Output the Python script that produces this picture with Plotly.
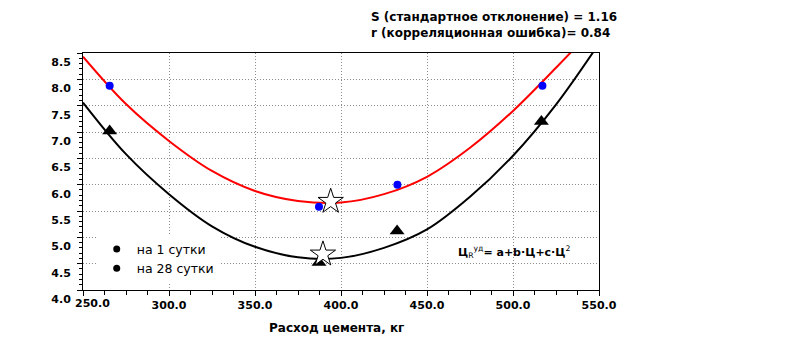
import plotly.graph_objects as go

# Fitted curves
curve_x_1 = [250, 275, 300, 325, 350, 375, 400, 425, 450, 475, 500, 525, 540]
curve_y_1 = [8.43, 7.53, 6.83, 6.26, 5.88, 5.69, 5.66, 5.82, 6.15, 6.70, 7.40, 8.22, 8.73]
curve_x_28 = [250, 275, 300, 325, 350, 375, 400, 425, 450, 475, 500, 525, 550]
curve_y_28 = [7.56, 6.58, 5.82, 5.21, 4.82, 4.62, 4.61, 4.80, 5.15, 5.77, 6.55, 7.52, 8.68]

# Measured points
pts_x_1 = [265.5, 387.2, 432.8, 517.1]
pts_y_1 = [7.88, 5.58, 6.00, 7.88]
pts_x_28 = [265.5, 387.2, 432.6, 516.5]
pts_y_28 = [7.02, 4.52, 5.12, 7.20]

# Optimum (stars)
star_x = [394.0, 389.5]
star_y = [5.68, 4.68]

legend_names = ["на 1 сутки", "на 28 сутки"]
stat_lines = ["S (стандартное отклонение) = 1.16", "r (корреляционная ошибка)= 0.84"]
equation = ("Ц<sub><span style='font-weight:normal'>R</span></sub>"
            "<sup><span style='font-weight:normal'>уд</span></sup>= a+b·Ц+c·Ц"
            "<sup><span style='font-weight:normal'>2</span></sup>")
x_title = "Расход цемента, кг"

x_ticks = [250, 300, 350, 400, 450, 500, 550]
x_ticktext = ["", "300.0", "350.0", "400.0", "450.0", "500.0", "550.0"]
first_x_label = "250.0"
y_ticks = [4.0, 4.5, 5.0, 5.5, 6.0, 6.5, 7.0, 7.5, 8.0, 8.5]

fig = go.Figure()
fig.add_trace(go.Scatter(x=curve_x_1, y=curve_y_1, mode="lines", line=dict(color="#ff0000", width=2, shape="spline"),
                         showlegend=False, hoverinfo="skip"))
fig.add_trace(go.Scatter(x=curve_x_28, y=curve_y_28, mode="lines", line=dict(color="#000000", width=2, shape="spline"),
                         showlegend=False, hoverinfo="skip"))
fig.add_trace(go.Scatter(x=pts_x_1, y=pts_y_1, mode="markers", marker=dict(color="#0000ff", size=8, symbol="circle"),
                         showlegend=False))
fig.add_trace(go.Scatter(x=pts_x_28, y=pts_y_28, mode="markers", marker=dict(color="#000000", size=13, symbol="triangle-up"),
                         showlegend=False))
fig.add_trace(go.Scatter(x=star_x, y=star_y, mode="markers",
                         marker=dict(color="#ffffff", size=19, symbol="star", line=dict(color="#000000", width=1)),
                         showlegend=False))
for nm in legend_names:
    fig.add_trace(go.Scatter(x=[None], y=[None], mode="markers", name=nm,
                             marker=dict(color="#000000", size=7, symbol="circle")))

tickfont = dict(family="DejaVu Sans", size=11, color="#000000", weight="bold")
grid_kw = dict(showgrid=True, gridcolor="#8c8c8c", griddash="1px,2px", gridwidth=1)
fig.update_xaxes(range=[250, 550], tickvals=x_ticks, ticktext=x_ticktext,
                 showline=True, linecolor="#000000", linewidth=1, mirror=True,
                 ticks="outside", ticklen=5, tickcolor="#000000",
                 minor=dict(dtick=12.5, tick0=250, ticks="outside", ticklen=4, tickcolor="#000000", showgrid=False),
                 zeroline=False, tickfont=tickfont, **grid_kw)
fig.update_yaxes(range=[4.0, 8.5], tickvals=y_ticks, ticktext=[f"{v:.1f}" for v in y_ticks],
                 showline=True, linecolor="#000000", linewidth=1, mirror=True,
                 ticks="outside", ticklen=5, tickcolor="#000000",
                 minor=dict(dtick=0.1, tick0=4.0, ticks="outside", ticklen=3, tickcolor="#000000", showgrid=False),
                 zeroline=False, tickfont=tickfont, ticklabelshift=9, ticklabelstandoff=4, **grid_kw)

# first x tick label, nudged right so it clears the "4.0" label (as in the original)
fig.add_annotation(text=first_x_label, xref="x", yref="paper", x=x_ticks[0], y=-0.058,
                   xanchor="center", yanchor="middle", xshift=9, showarrow=False, font=tickfont)

ann_font = dict(family="DejaVu Sans", size=12, color="#000000", weight="bold")
fig.add_annotation(text=stat_lines[0], xref="paper", yref="paper", x=0.5537, y=1.153,
                   xanchor="left", yanchor="middle", showarrow=False, font=ann_font)
fig.add_annotation(text=stat_lines[1], xref="paper", yref="paper", x=0.5537, y=1.085,
                   xanchor="left", yanchor="middle", showarrow=False, font=ann_font)
fig.add_annotation(text=equation, xref="paper", yref="paper", x=0.7223, y=0.16,
                   xanchor="left", yanchor="middle", showarrow=False,
                   font=dict(family="DejaVu Sans", size=11, color="#000000", weight="bold"))
fig.add_annotation(text=x_title, xref="paper", yref="paper", x=0.4917, y=-0.1605,
                   xanchor="center", yanchor="middle", showarrow=False, font=ann_font)

fig.update_layout(
    width=791, height=360,
    margin=dict(l=83, r=192, t=53, b=70),
    paper_bgcolor="#ffffff", plot_bgcolor="#ffffff",
    showlegend=True,
    legend=dict(x=0.0266, y=0.235, xanchor="left", yanchor="top", bgcolor="#ffffff",
                font=dict(family="DejaVu Sans", size=12.5, color="#000000"), borderwidth=0),
)

fig.write_html("out.html")
